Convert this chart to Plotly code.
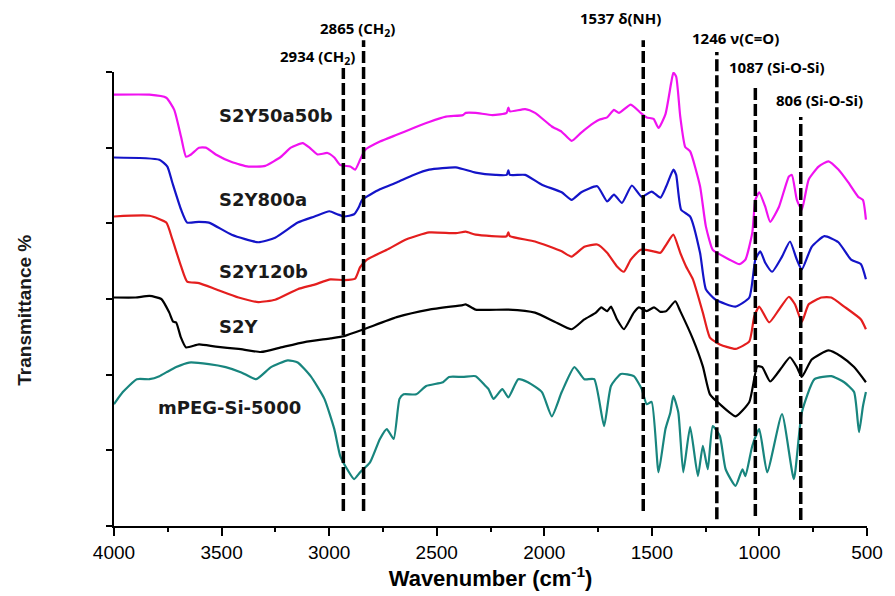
import plotly.graph_objects as go

# ---------------- data ----------------
wn_s2y50a50b = [4000, 3835, 3757, 3720, 3688, 3665, 3642, 3605, 3573, 3527, 3453, 3375, 3297, 3224, 3178,
                3123, 3091, 3054, 3008, 2976, 2948, 2902, 2879, 2856, 2833, 2764, 2686, 2608, 2535, 2457,
                2379, 2365, 2319, 2241, 2175, 2167, 2160, 2089, 2043, 1965, 1919, 1873, 1828, 1768, 1745,
                1708, 1676, 1653, 1598, 1552, 1524, 1492, 1469, 1437, 1410, 1400, 1387, 1368, 1345, 1322,
                1276, 1249, 1217, 1184, 1139, 1093, 1065, 1033, 1019, 1001, 973, 950, 909, 863, 849, 826,
                803, 771, 725, 679, 633, 587, 541, 519, 505]
t_s2y50a50b = [57.0, 57.0, 56.6, 55.0, 51.4, 48.8, 49.1, 50.0, 50.0, 49.1, 48.1, 47.5, 47.6, 48.8, 50.0,
               50.6, 50.0, 49.1, 49.3, 48.7, 47.7, 47.5, 47.1, 48.4, 49.7, 50.8, 51.7, 52.6, 53.4, 54.1,
               54.3, 54.6, 54.6, 54.3, 54.6, 55.3, 54.8, 55.1, 54.6, 52.8, 52.1, 50.9, 52.0, 53.3, 53.7,
               54.0, 55.0, 54.6, 55.7, 54.6, 54.0, 53.8, 52.6, 54.4, 58.6, 59.9, 59.4, 54.1, 50.1, 49.5,
               44.9, 39.6, 36.5, 35.9, 35.2, 34.6, 35.2, 38.8, 43.1, 44.1, 42.2, 40.2, 42.2, 46.2, 46.4, 43.1,
               41.8, 45.8, 47.5, 48.2, 47.1, 45.4, 43.5, 43.1, 40.5]

wn_s2y800a = [4000, 3789, 3752, 3729, 3688, 3660, 3605, 3559, 3453, 3329, 3251, 3146, 3068, 2999, 2962,
              2930, 2884, 2861, 2847, 2764, 2686, 2608, 2535, 2411, 2319, 2227, 2175, 2167, 2160, 2089,
              2011, 1919, 1873, 1828, 1754, 1708, 1676, 1639, 1593, 1547, 1501, 1460, 1433, 1400, 1387,
              1364, 1322, 1276, 1249, 1203, 1111, 1047, 1019, 996, 973, 941, 895, 858, 826, 803, 757,
              698, 633, 574, 528, 505]
t_s2y800a = [48.7, 48.4, 47.5, 45.4, 41.8, 40.1, 40.2, 40.1, 38.5, 37.5, 38.1, 40.1, 40.9, 41.6, 41.2,
             40.9, 41.2, 42.2, 43.1, 44.5, 45.4, 46.4, 47.1, 47.4, 46.7, 46.4, 46.4, 47.0, 46.4, 46.4,
             45.1, 44.1, 43.1, 44.1, 44.9, 42.9, 43.8, 42.7, 45.0, 43.5, 44.2, 43.4, 44.9, 47.1, 46.4,
             41.8, 40.9, 36.1, 31.3, 29.9, 29.0, 30.2, 35.2, 36.3, 34.8, 33.6, 35.6, 37.6, 35.2, 33.9, 36.9,
             38.3, 37.5, 35.2, 34.6, 32.6]

wn_s2y120b = [4000, 3835, 3757, 3729, 3688, 3660, 3605, 3527, 3421, 3329, 3251, 3146, 3068, 2994, 2930,
              2879, 2856, 2824, 2732, 2640, 2535, 2411, 2365, 2319, 2175, 2167, 2160, 2043, 1919, 1873,
              1814, 1754, 1708, 1662, 1630, 1598, 1552, 1492, 1460, 1433, 1400, 1368, 1341, 1309, 1263,
              1230, 1184, 1111, 1047, 1024, 1001, 955, 909, 863, 835, 803, 771, 711, 666, 606, 528, 505]
t_s2y120b = [40.9, 41.0, 40.1, 37.9, 34.3, 32.3, 32.1, 31.3, 30.2, 29.6, 29.9, 31.3, 31.9, 32.6, 32.5,
             32.7, 34.2, 35.2, 36.5, 37.9, 38.8, 38.7, 38.9, 38.5, 38.3, 38.8, 38.3, 37.6, 36.3, 35.6,
             36.9, 37.2, 36.1, 34.3, 33.6, 35.2, 36.5, 36.3, 36.1, 37.2, 38.5, 36.1, 34.3, 32.6, 28.2,
             24.9, 24.0, 23.4, 24.4, 27.7, 29.0, 26.9, 28.6, 30.3, 29.3, 27.0, 29.3, 30.2, 30.2, 29.0, 27.3, 26.0]

wn_s2y = [4000, 3900, 3835, 3780, 3743, 3725, 3711, 3690, 3665, 3605, 3527, 3421, 3316, 3224, 3114,
          2994, 2930, 2838, 2686, 2535, 2379, 2365, 2319, 2167, 2043, 1952, 1873, 1814, 1760, 1735, 1708,
          1690, 1662, 1630, 1584, 1560, 1524, 1490, 1460, 1433, 1391, 1368, 1309, 1263, 1230, 1184,
          1111, 1047, 1010, 987, 950, 895, 858, 826, 803, 757, 679, 620, 560, 505]
t_s2y = [30.2, 30.2, 30.4, 30.0, 28.2, 27.0, 26.9, 25.0, 23.6, 24.0, 23.7, 23.4, 23.0, 23.6, 24.3,
         24.8, 25.1, 26.0, 27.6, 28.6, 29.2, 29.3, 28.6, 28.6, 28.2, 27.0, 26.0, 27.3, 28.2, 28.9, 28.4,
         29.0, 27.3, 26.0, 28.2, 28.9, 28.4, 28.9, 28.3, 28.4, 29.7, 28.4, 24.7, 21.1, 17.4, 16.1,
         14.5, 16.4, 21.1, 21.0, 19.1, 21.0, 22.3, 21.0, 19.7, 22.0, 23.2, 22.4, 21.0, 19.0]

wn_mpeg = [4000, 3959, 3894, 3835, 3789, 3757, 3711, 3651, 3559, 3481, 3408, 3339, 3270, 3192, 3146,
           3086, 3022, 2976, 2948, 2916, 2884, 2856, 2810, 2764, 2732, 2700, 2673, 2654, 2595, 2549,
           2471, 2443, 2379, 2319, 2273, 2259, 2236, 2195, 2167, 2121, 2076, 2011, 1965, 1919, 1860,
           1814, 1768, 1722, 1690, 1644, 1584, 1547, 1524, 1501, 1469, 1437, 1414, 1400, 1377, 1354,
           1322, 1286, 1263, 1240, 1217, 1184, 1157, 1111, 1079, 1065, 1033, 1001, 964, 895, 840, 803,
           744, 666, 606, 560, 537, 519, 505]
t_mpeg = [16.1, 17.7, 19.4, 19.4, 19.8, 20.3, 21.0, 21.6, 21.4, 21.0, 20.3, 19.4, 21.0, 21.9, 21.6,
          19.8, 16.8, 12.8, 9.2, 7.5, 6.2, 7.1, 8.4, 11.5, 12.8, 11.5, 16.8, 17.4, 17.4, 18.5,
          19.0, 19.7, 19.7, 19.8, 18.5, 18.1, 16.8, 18.1, 17.0, 19.4, 19.0, 17.7, 14.5, 17.7, 21.0,
          19.4, 19.4, 13.2, 18.5, 20.1, 19.8, 18.1, 16.1, 16.4, 7.1, 12.8, 15.0, 17.2, 15.0, 7.1,
          13.1, 6.6, 10.6, 7.5, 13.2, 11.9, 7.5, 5.3, 7.5, 6.6, 10.6, 12.8, 7.1, 14.8, 6.2, 15.0,
          19.4, 19.8, 19.0, 17.7, 12.4, 15.8, 17.7]

series_names = ["S2Y50a50b", "S2Y800a", "S2Y120b", "S2Y", "mPEG-Si-5000"]
series_x = [wn_s2y50a50b, wn_s2y800a, wn_s2y120b, wn_s2y, wn_mpeg]
series_y = [t_s2y50a50b, t_s2y800a, t_s2y120b, t_s2y, t_mpeg]
series_colors = ["#F012F0", "#1414C8", "#E41E1E", "#000000", "#18857E"]

# curve labels: anchor wavenumber and transmittance
label_wn = [3522, 3522, 3522, 3522, 3803]
label_t = [54.3, 43.1, 33.6, 26.4, 15.7]

# band markers: label text, line position, label position
band_text = ["2934 (CH<sub>2</sub>)", "2865 (CH<sub>2</sub>)", "1537 δ(NH)",
             "1246 ν(C=O)", "1087 (Si-O-Si)", "806 (Si-O-Si)"]
band_line_wn = [2934, 2840, 1540, 1198, 1019, 808]
band_line_top = [1.009, 1.070, 1.070, 1.044, 0.971, 0.901]
band_line_bottom = [0.033, 0.033, 0.033, 0.015, 0.022, 0.013]
band_label_wn = [3054, 2870, 1644, 1111, 918, 721]
band_label_y = [1.033, 1.095, 1.119, 1.075, 1.011, 0.938]

x_ticks = [4000, 3500, 3000, 2500, 2000, 1500, 1000, 500]

# ---------------- figure ----------------
fig = go.Figure()
for name, xs, ys, col in zip(series_names, series_x, series_y, series_colors):
    fig.add_trace(go.Scatter(x=xs, y=ys, mode="lines", name=name,
                             line=dict(color=col, width=2.2, shape="spline", smoothing=0.5),
                             showlegend=False))

for name, lx, ly in zip(series_names, label_wn, label_t):
    fig.add_annotation(x=lx, y=ly, xref="x", yref="y", text="<b>%s</b>" % name,
                       showarrow=False, xanchor="left", yanchor="middle",
                       font=dict(family="DejaVu Sans", size=18, color="#1a1a1a"))

for txt, lw, y0, y1, tx, ty in zip(band_text, band_line_wn, band_line_bottom, band_line_top,
                                   band_label_wn, band_label_y):
    fig.add_shape(type="line", xref="x", yref="paper", x0=lw, x1=lw, y0=y0, y1=y1,
                  line=dict(color="black", width=3.5, dash="12px,4px"))
    fig.add_annotation(x=tx, y=ty, xref="x", yref="paper", text="<b>%s</b>" % txt,
                       showarrow=False, xanchor="center", yanchor="middle",
                       font=dict(family="Open Sans", size=15, color="black"))

fig.add_annotation(x=-0.119, y=0.475, xref="paper", yref="paper", text="<b>Transmittance %</b>",
                   textangle=-90, showarrow=False, xanchor="center", yanchor="middle",
                   font=dict(family="Liberation Sans", size=19, color="#1a1a1a"))

fig.update_layout(
    width=895, height=596,
    margin=dict(l=114, r=19, t=72, b=69),
    paper_bgcolor="white", plot_bgcolor="white",
    xaxis=dict(range=[4000, 500], tickvals=x_ticks, ticktext=[str(v) for v in x_ticks],
               ticks="outside", ticklen=8, tickwidth=1.5, tickcolor="black",
               minor=dict(dtick=250, tick0=0, ticks="outside", ticklen=4, tickwidth=1.5, tickcolor="black"),
               showline=True, linecolor="black", linewidth=1.5, showgrid=False, zeroline=False,
               tickfont=dict(family="Liberation Sans", size=19, color="black"),
               title=dict(text="<b>Wavenumber (cm<sup>-1</sup>)</b>", standoff=6,
                          font=dict(family="Liberation Sans", size=22, color="black"))),
    yaxis=dict(range=[0, 60], dtick=10, tick0=0, ticks="outside", ticklen=6, tickwidth=1.5,
               tickcolor="black", showticklabels=False, showline=True, linecolor="black",
               linewidth=1.5, showgrid=False, zeroline=False),
)

fig.write_html("out.html")
